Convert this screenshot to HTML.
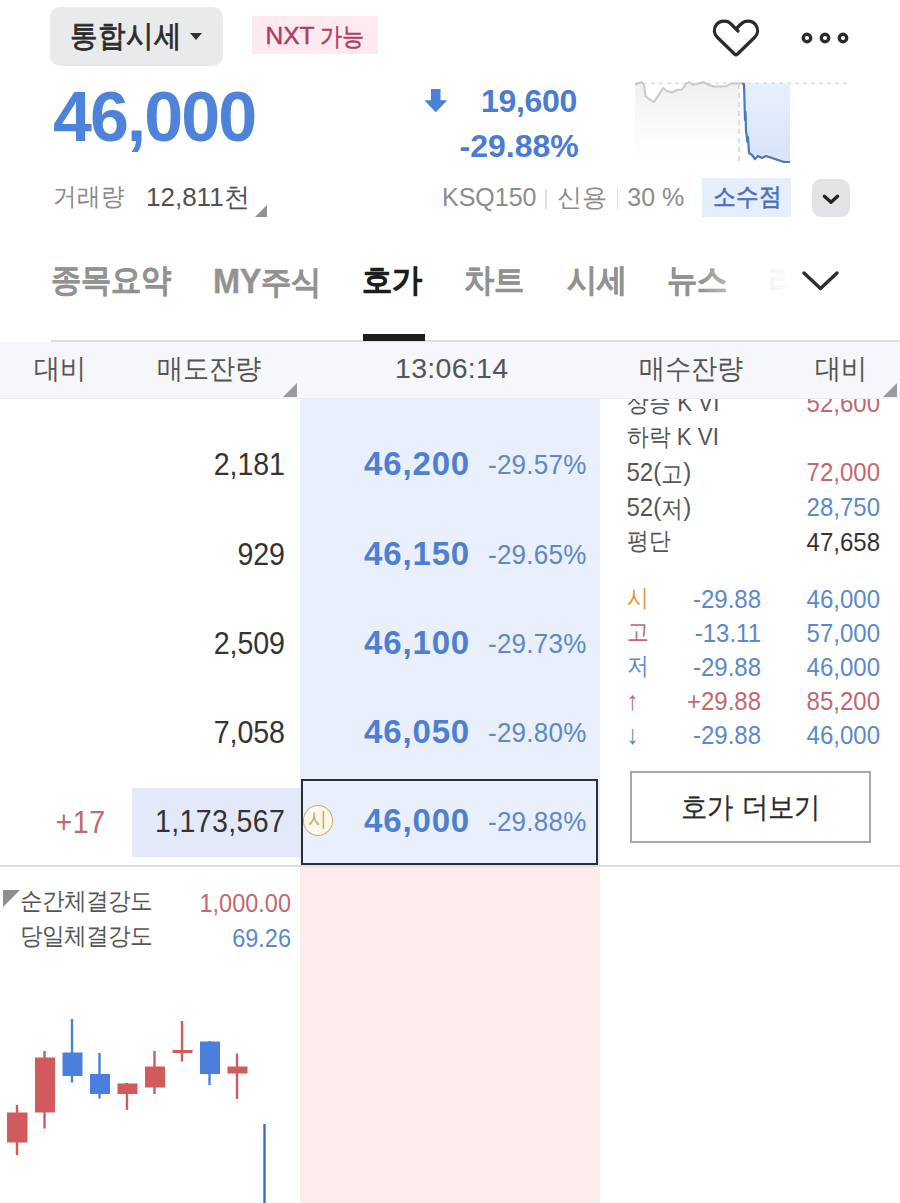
<!DOCTYPE html>
<html lang="ko">
<head>
<meta charset="utf-8">
<title>호가</title>
<style>
*{box-sizing:border-box;margin:0;padding:0}
html,body{width:900px;height:1203px;overflow:hidden;background:#fff}
body{font-family:"Liberation Sans",sans-serif;color:#333;position:relative}
.a{position:absolute;white-space:nowrap;line-height:1}
.r{text-align:right}
.c{text-align:center}
.blue{color:#4a7ccf}
.red{color:#c0696e}
.gray{color:#8a8a8a}
/* top */
#selbtn{left:50px;top:7px;width:173px;height:59px;background:#e9eaec;border-radius:10px}
#seltxt{left:69.5px;top:22px;font-size:27.8px;color:#2c2c2c;-webkit-text-stroke:0.75px #2c2c2c;transform:scaleY(1.09)}
#caret{left:190.3px;top:33px;width:0;height:0;border-left:6px solid transparent;border-right:6px solid transparent;border-top:7px solid #333}
#nxt{left:252px;top:16px;width:126px;height:38px;background:#fceaee}
#nxttxt{left:265.5px;top:24px;font-size:24.5px;color:#ad3d63;-webkit-text-stroke:0.45px #ad3d63}
#price{left:53px;top:82px;font-size:70px;font-weight:bold;color:#4e83d9;letter-spacing:-2px}
#vol1{left:52.5px;top:185.5px;font-size:23.6px;color:#8a8a8a;transform:scaleY(1.06)}
#vol2{left:146px;top:184px;font-size:26px;color:#505050}
.tri{width:0;height:0;border-left:12px solid transparent;border-bottom:12px solid #8e9196}
#chg1{left:481px;top:85px;font-size:32px;letter-spacing:-0.3px;font-weight:bold;color:#4a7ccf}
#chg2{left:459.5px;top:130px;font-size:32px;font-weight:bold;color:#4a7ccf}
#info{left:442px;top:185px;font-size:25px;color:#8c8c8c}
#sosu{left:701.5px;top:178px;width:89px;height:38.6px;background:#e6eefc}
#sosutxt{left:712.5px;top:186px;font-size:22.6px;color:#4a6fbe;-webkit-text-stroke:0.55px #4a6fbe;transform:scaleY(1.1)}
#ddbtn{left:811.7px;top:178.6px;width:38.5px;height:38px;background:#e2e3e6;border-radius:9px}
/* tabs */
.tab{top:265px;font-size:29.8px;font-weight:bold;color:#929292;transform:scaleY(1.06);-webkit-text-stroke:0.3px currentColor}
#tabline{left:51px;top:339.5px;width:849px;height:2px;background:#dfe0e2}
#tabul{left:363px;top:334px;width:62px;height:7px;background:#1e1e1e}
/* header row */
#hdr{left:0;top:341.5px;width:900px;height:57.5px;background:#f6f7fa;border-bottom:1.5px solid #ebedf0}
.h{top:355px;font-size:26px;color:#555;transform:scaleY(1.07)}
/* columns */
#bluecol{left:300.3px;top:399.3px;width:300.2px;height:467px;background:#e9effb}
#pinkcol{left:300.3px;top:867px;width:300.2px;height:336px;background:#fbebeb}
#hline{left:0;top:865.2px;width:900px;height:1.9px;background:#dfdfdf}
.q{font-size:28.6px;color:#333;width:200px;text-align:right;letter-spacing:-0.1px;transform:scaleY(1.1)}
.p{font-size:33px;font-weight:bold;color:#4e7fd0;letter-spacing:0.85px}
.pc{font-size:26px;color:#5c88cc;letter-spacing:0.25px;transform:scaleY(1.07)}
#curbox{left:300.6px;top:778.5px;width:297.4px;height:86.3px;border:2.4px solid #2a2e35}
#curq{left:131.5px;top:788px;width:169px;height:68.7px;background:#e3e9f8}
.i{font-size:24px;transform:scaleY(1.1)}
.k{font-size:21.5px;position:relative;top:0.8px}
#morebtn{left:630px;top:771px;width:241px;height:72px;border:2px solid #a9a9a9;background:#fff}
</style>
</head>
<body>
<!-- top bar -->
<div class="a" id="selbtn"></div>
<div class="a" id="seltxt">통합시세</div>
<div class="a" id="caret"></div>
<div class="a" id="nxt"></div>
<div class="a" id="nxttxt">NXT <span style="font-size:22px;margin-left:-1px;display:inline-block;transform:scaleY(1.13);transform-origin:50% 60%">가능</span></div>
<svg class="a" id="heart" style="left:700px;top:10px" width="70" height="56" viewBox="700 10 70 56"><path d="M738 31 L731 24 C727.5 20 720 20 716.5 24.5 C713 29 714 34 717.5 37.5 L734.5 54 Q736 55.5 737.5 54 L754.5 37.5 C758 34 759 29 755.5 24.5 C752 20 745 20 741 24 L737.5 27.5" fill="none" stroke="#2a2a2a" stroke-width="3.2" stroke-linecap="round" stroke-linejoin="round"/></svg>
<svg class="a" id="dots" style="left:795px;top:26px" width="60" height="24" viewBox="795 26 60 24"><circle cx="807" cy="38" r="3.75" fill="none" stroke="#2a2a2a" stroke-width="3.3"/><circle cx="825" cy="38" r="3.75" fill="none" stroke="#2a2a2a" stroke-width="3.3"/><circle cx="843" cy="38" r="3.75" fill="none" stroke="#2a2a2a" stroke-width="3.3"/></svg>

<svg class="a" id="mini" style="left:630px;top:76px" width="225" height="94" viewBox="630 76 225 94">
<defs><linearGradient id="gg" x1="0" y1="0" x2="0" y2="1"><stop offset="0" stop-color="#f0f0f0"/><stop offset="0.75" stop-color="#fdfdfd"/><stop offset="1" stop-color="#fff"/></linearGradient>
<linearGradient id="gb" x1="0" y1="0" x2="0" y2="1"><stop offset="0" stop-color="#e9f0fc"/><stop offset="1" stop-color="#d6e3f9"/></linearGradient></defs>
<path d="M635 84.5 L642 82 L644 85 L645.5 96 L649 99 L654 102 L658 96 L663 88 L667 91 L672 92.5 L677 90 L682 89.5 L686 84 L689 82 L693 85 L697 84 L703 82 L709 85 L714 86.5 L721 86.5 L727 86 L731 83.5 L739 83.5 L739 163 L635 163 Z" fill="url(#gg)"/>
<path d="M742 83.5 L744 84 L745 120 L746 131 L747.5 142 L749 153 L752 155 L755 159 L758 156 L762 158 L766 156 L772 158 L778 160 L784 162 L790 162 L790 83.5 Z" fill="url(#gb)"/>
<path d="M635 83.3 H851" stroke="#e0e0e0" stroke-width="1.6" stroke-dasharray="4 4" fill="none"/>
<path d="M739 84 V165" stroke="#d6d6d6" stroke-width="1.6" stroke-dasharray="5 4" fill="none"/>
<path d="M635 84.5 L642 82 L644 85 L645.5 96 L649 99 L654 102 L658 96 L663 88 L667 91 L672 92.5 L677 90 L682 89.5 L686 84 L689 82 L693 85 L697 84 L703 82 L709 85 L714 86.5 L721 86.5 L727 86 L731 83.5 L742 83.5" fill="none" stroke="#c9c9c9" stroke-width="2" stroke-linejoin="round"/>
<path d="M742 83.5 L744 84 L745 120 L745.5 112 L746 131 L747.5 142 L748 137 L749 153 L752 155 L755 159 L758 156 L762 158 L766 156 L772 158 L778 160 L784 162 L790 162" fill="none" stroke="#4a78c4" stroke-width="2.2" stroke-linejoin="round"/>
</svg>
<div class="a" id="price">46,000</div>
<div class="a" id="vol1">거래량</div>
<div class="a" id="vol2">12,811천</div>
<div class="a tri" style="left:255px;top:205px"></div>

<svg class="a" style="left:422px;top:86px" width="28" height="28" viewBox="422 86 28 28"><path d="M431 89 H440.5 V100.3 H447.2 L435.75 112.2 L424.3 100.3 H431 Z" fill="#4c80d8"/></svg>
<div class="a" id="chg1">19,600</div>
<div class="a" id="chg2">-29.88%</div>

<div class="a" id="info">KSQ150 <span style="display:inline-block;width:6.5px;height:20px;vertical-align:-3px;background:linear-gradient(to right,transparent 2.5px,#dfdfdf 2.5px,#dfdfdf 4px,transparent 4px)"></span> 신용 <span style="display:inline-block;width:6.5px;height:20px;vertical-align:-3px;background:linear-gradient(to right,transparent 2.5px,#dfdfdf 2.5px,#dfdfdf 4px,transparent 4px)"></span> 30 %</div>
<div class="a" id="sosu"></div>
<div class="a" id="sosutxt">소수점</div>
<div class="a" id="ddbtn"></div>
<svg class="a" style="left:820px;top:189px" width="22" height="18" viewBox="0 0 22 18"><path d="M4.4 7.2 L11 13.2 L17.6 7.2" fill="none" stroke="#222" stroke-width="3.3" stroke-linecap="round" stroke-linejoin="round"/></svg>

<!-- tabs -->
<div class="a tab" style="left:51px">종목요약</div>
<div class="a tab" style="left:213px"><span style="font-size:32.5px;letter-spacing:-0.3px">MY</span>주식</div>
<div class="a tab" style="left:362px;color:#1e1e1e">호가</div>
<div class="a tab" style="left:464px">차트</div>
<div class="a tab" style="left:567px">시세</div>
<div class="a tab" style="left:667px">뉴스</div>
<div class="a tab" style="left:768px;width:19px;overflow:hidden">리</div>
<div class="a" style="left:700px;top:255px;width:95px;height:55px;background:linear-gradient(to right,rgba(255,255,255,0),rgba(255,255,255,0.9) 75%,#fff)"></div>
<svg class="a" style="left:798px;top:264px" width="46" height="32" viewBox="798 264 46 32"><path d="M804 273 L820.5 288.5 L837 273" fill="none" stroke="#2e2e2e" stroke-width="3.4" stroke-linecap="round" stroke-linejoin="round"/></svg>
<div class="a" id="tabline"></div>
<div class="a" id="tabul"></div>

<!-- header row -->
<div class="a" id="hdr"></div>
<div class="a h" style="left:34px">대비</div>
<div class="a h" style="left:157px">매도잔량</div>
<div class="a h" id="tm" style="left:395px;top:354px;font-size:28.5px;letter-spacing:0.3px;transform:none">13:06:14</div>
<div class="a h" style="left:639px">매수잔량</div>
<div class="a h" style="left:815px">대비</div>

<div class="a" style="left:283px;top:382.8px;width:0;height:0;border-left:14px solid transparent;border-bottom:14px solid #9a9b9d"></div>
<div class="a" style="left:883.2px;top:382.8px;width:0;height:0;border-left:14px solid transparent;border-bottom:14px solid #9a9b9d"></div>
<div class="a" id="bluecol"></div>
<div class="a" id="pinkcol"></div>
<div class="a" id="hline"></div>
<!-- order book rows -->
<div class="a" id="curq"></div>
<div class="a" id="curbox"></div>
<div class="a q" style="left:84.8px;top:449.7px">2,181</div>
<div class="a p" style="left:364px;top:447px">46,200</div>
<div class="a pc" style="left:488px;top:451px">-29.57%</div>
<div class="a q" style="left:84.8px;top:539.7px">929</div>
<div class="a p" style="left:364px;top:537px">46,150</div>
<div class="a pc" style="left:488px;top:541px">-29.65%</div>
<div class="a q" style="left:84.8px;top:628.7px">2,509</div>
<div class="a p" style="left:364px;top:626px">46,100</div>
<div class="a pc" style="left:488px;top:630px">-29.73%</div>
<div class="a q" style="left:84.8px;top:717.7px">7,058</div>
<div class="a p" style="left:364px;top:715px">46,050</div>
<div class="a pc" style="left:488px;top:719px">-29.80%</div>
<div class="a q" style="left:84.8px;top:806.7px;letter-spacing:0.35px;left:85.3px">1,173,567</div>
<div class="a p" style="left:364px;top:804px">46,000</div>
<div class="a pc" style="left:488px;top:808px">-29.88%</div>
<div class="a red" style="left:55.5px;top:807.5px;font-size:28.6px;letter-spacing:0.6px;transform:scaleY(1.1)">+17</div>
<div class="a" id="si" style="left:303px;top:805.3px;width:30px;height:30.5px;border:1.7px solid #cfad78;border-radius:50%;background:#fdf8ea"></div>
<div class="a" id="sitxt" style="left:308px;top:810px;font-size:19.5px;color:#c6a46c;transform:scaleY(1.05)">시</div>
<!-- right info panel -->
<div class="a" id="clip" style="left:600px;top:399px;width:300px;height:20px;overflow:hidden"><div class="a i" style="left:27px;top:-6.8px;color:#555;font-size:21.5px">상승<span style="font-size:22.3px"> K VI</span></div><div class="a i r red" style="right:20px;top:-7.8px">52,600</div></div>
<div class="a i" style="left:626.5px;top:426px;color:#555;font-size:21.5px">하락<span style="font-size:22.3px"> K VI</span></div>
<div class="a i" style="left:626.5px;top:460px;color:#555">52(<span class="k">고</span>)</div>
<div class="a i r" style="right:20px;top:460px;color:#c0696e">72,000</div>
<div class="a i" style="left:626.5px;top:495px;color:#555">52(<span class="k">저</span>)</div>
<div class="a i r" style="right:20px;top:495px;color:#5c88cc">28,750</div>
<div class="a i" style="left:626.5px;top:531px;color:#555;font-size:21.5px">평단</div>
<div class="a i r" style="right:20px;top:530px;color:#333">47,658</div>
<div class="a i" style="left:626.5px;top:588px;color:#e0994a;font-size:21.5px">시</div>
<div class="a i r" style="right:139px;top:587px;color:#5c88cc">-29.88</div>
<div class="a i r" style="right:20px;top:587px;color:#5c88cc">46,000</div>
<div class="a i" style="left:626.5px;top:622px;color:#c0696e;font-size:21.5px">고</div>
<div class="a i r" style="right:139px;top:621px;color:#5c88cc">-13.11</div>
<div class="a i r" style="right:20px;top:621px;color:#5c88cc">57,000</div>
<div class="a i" style="left:626.5px;top:656px;color:#5c88cc;font-size:21.5px">저</div>
<div class="a i r" style="right:139px;top:655px;color:#5c88cc">-29.88</div>
<div class="a i r" style="right:20px;top:655px;color:#5c88cc">46,000</div>
<div class="a i" style="left:626.5px;top:689px;color:#c0696e">↑</div>
<div class="a i r" style="right:139px;top:689px;color:#c0696e">+29.88</div>
<div class="a i r" style="right:20px;top:689px;color:#c0696e">85,200</div>
<div class="a i" style="left:626.5px;top:723px;color:#5c88cc">↓</div>
<div class="a i r" style="right:139px;top:723px;color:#5c88cc">-29.88</div>
<div class="a i r" style="right:20px;top:723px;color:#5c88cc">46,000</div>
<div class="a" id="morebtn"></div>
<div class="a" id="moretxt" style="left:680.5px;top:793.5px;font-size:26.2px;word-spacing:2.5px;-webkit-text-stroke:0.2px #2a2a2a;transform:scaleY(1.1);color:#2a2a2a">호가 더보기</div>
<!-- bottom-left strength + candles -->
<div class="a" style="left:3px;top:889.5px;width:0;height:0;border-top:17.5px solid #8e8e8e;border-right:17.5px solid transparent"></div>
<div class="a" id="s1" style="left:20.3px;top:891px;font-size:22.25px;color:#555;transform:scaleY(1.06)">순간체결강도</div>
<div class="a r red" id="s1v" style="right:609px;top:892px;font-size:23.5px;transform:scaleY(1.08)">1,000.00</div>
<div class="a" id="s2" style="left:20.3px;top:926px;font-size:22.25px;color:#555;transform:scaleY(1.06)">당일체결강도</div>
<div class="a r" id="s2v" style="right:609px;top:927px;font-size:23.5px;color:#5c88cc;transform:scaleY(1.08)">69.26</div>
<svg class="a" id="candles" style="left:0;top:1000px" width="300" height="203" viewBox="0 1000 300 203"><rect x="15.8" y="1105" width="2.4" height="50" fill="#d05a5c"/><rect x="7" y="1112.5" width="20.5" height="30.0" fill="#d05a5c"/><rect x="43.3" y="1051" width="2.4" height="77.5" fill="#d05a5c"/><rect x="35" y="1057.5" width="20" height="55.0" fill="#d05a5c"/><rect x="70.8" y="1019" width="2.4" height="63.5" fill="#4a80dc"/><rect x="62.5" y="1052.5" width="20.0" height="23.5" fill="#4a80dc"/><rect x="98.3" y="1053" width="2.4" height="45.5" fill="#4a80dc"/><rect x="90" y="1074" width="20" height="20" fill="#4a80dc"/><rect x="125.8" y="1083" width="2.4" height="27" fill="#d05a5c"/><rect x="117.5" y="1083.5" width="20.0" height="10.5" fill="#d05a5c"/><rect x="153.3" y="1051" width="2.4" height="43" fill="#d05a5c"/><rect x="145" y="1066.5" width="20" height="21.0" fill="#d05a5c"/><rect x="180.8" y="1021" width="2.4" height="40.5" fill="#d05a5c"/><rect x="172.5" y="1050" width="20.0" height="3" fill="#d05a5c"/><rect x="208.3" y="1041" width="2.4" height="44" fill="#4a80dc"/><rect x="200" y="1041.5" width="20" height="32.5" fill="#4a80dc"/><rect x="235.8" y="1053.5" width="2.4" height="45.5" fill="#d05a5c"/><rect x="227.5" y="1066.5" width="20.0" height="7.0" fill="#d05a5c"/><rect x="263.3" y="1124" width="2.4" height="79" fill="#3a6fc0"/></svg>
</body>
</html>
